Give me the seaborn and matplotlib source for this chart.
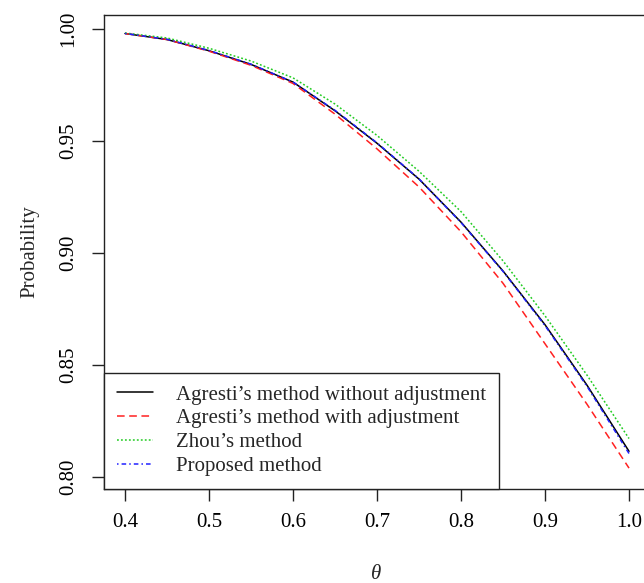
import pandas as pd
import matplotlib
matplotlib.use("Agg")
import matplotlib.pyplot as plt
import seaborn as sns

theta = [0.40, 0.45, 0.50, 0.55, 0.60, 0.65, 0.70, 0.75, 0.80, 0.85, 0.90, 0.95, 1.00]

agresti_no_adj = [0.9980, 0.9953, 0.9903, 0.9842, 0.9763, 0.9635, 0.9490, 0.9330, 0.9138, 0.8920, 0.8680, 0.8410, 0.8115]
agresti_adj = [0.9980, 0.9953, 0.9901, 0.9838, 0.9757, 0.9620, 0.9465, 0.9295, 0.9095, 0.8865, 0.8595, 0.8325, 0.8040]
zhou = [0.9982, 0.9960, 0.9914, 0.9857, 0.9782, 0.9665, 0.9525, 0.9365, 0.9185, 0.8965, 0.8720, 0.8455, 0.8172]
proposed = [0.9980, 0.9954, 0.9904, 0.9843, 0.9763, 0.9637, 0.9492, 0.9331, 0.9136, 0.8918, 0.8676, 0.8405, 0.8105]

methods = ["Agresti\u2019s method without adjustment",
           "Agresti\u2019s method with adjustment",
           "Zhou\u2019s method",
           "Proposed method"]
x_ticks = [0.4, 0.5, 0.6, 0.7, 0.8, 0.9, 1.0]
y_ticks = [0.80, 0.85, 0.90, 0.95, 1.00]

df = pd.concat([
    pd.DataFrame({"theta": theta, "prob": vals, "method": m})
    for m, vals in zip(methods, [agresti_no_adj, agresti_adj, zhou, proposed])
])

sns.set_style("ticks")
plt.rcParams["font.family"] = ["Liberation Serif", "DejaVu Serif"]

colors = dict(zip(methods, ["black", "#ff2020", "#22cc22", "#2020ff"]))
dashes = dict(zip(methods, ["", (5, 3), (1.2, 1.4), (1, 2, 3, 2)]))
fs = 15

fig = plt.figure(figsize=(6.44, 5.83), dpi=100)
ax = fig.add_axes([104 / 644, 94.5 / 583, 544 / 644, 473.5 / 583])

sns.lineplot(data=df, x="theta", y="prob", hue="method", style="method",
             palette=colors, dashes=dashes, linewidth=1.1, ax=ax, legend=False)

ax.set_xlim(0.375, 1.0226)
ax.set_ylim(0.7949, 1.00625)
ax.set_xticks(x_ticks)
ax.set_xticklabels(["0.4", "0.5", "0.6", "0.7", "0.8", "0.9", "1.0"])
ax.set_yticks(y_ticks)
ax.set_yticklabels(["0.80", "0.85", "0.90", "0.95", "1.00"])
ax.tick_params(direction="out", length=8.6, width=1.0, labelsize=fs,
               color="#222222", labelcolor="black")
ax.tick_params(axis="x", pad=9)
ax.tick_params(axis="y", pad=10)
plt.setp(ax.get_yticklabels(), rotation=90, va="center")
for s in ax.spines.values():
    s.set_linewidth(1.0)
    s.set_color("#222222")

ax.set_xlabel("\u03b8", fontsize=fs, fontstyle="italic", labelpad=24)
ax.set_ylabel("Probability", fontsize=fs, labelpad=14)

handles = [plt.Line2D([], [], color=colors[m], linewidth=1.1,
                      linestyle="-" if dashes[m] == "" else (0, dashes[m]))
           for m in methods]
leg = ax.legend(handles, methods, loc="lower left", bbox_to_anchor=(0, 0),
                borderaxespad=0, fontsize=fs, frameon=True, fancybox=False,
                edgecolor="#222222", framealpha=1, handlelength=1.75,
                handletextpad=1.1, labelspacing=0.2, borderpad=0.6)
leg.get_frame().set_linewidth(1.0)

fig.savefig("out.png", dpi=100)
